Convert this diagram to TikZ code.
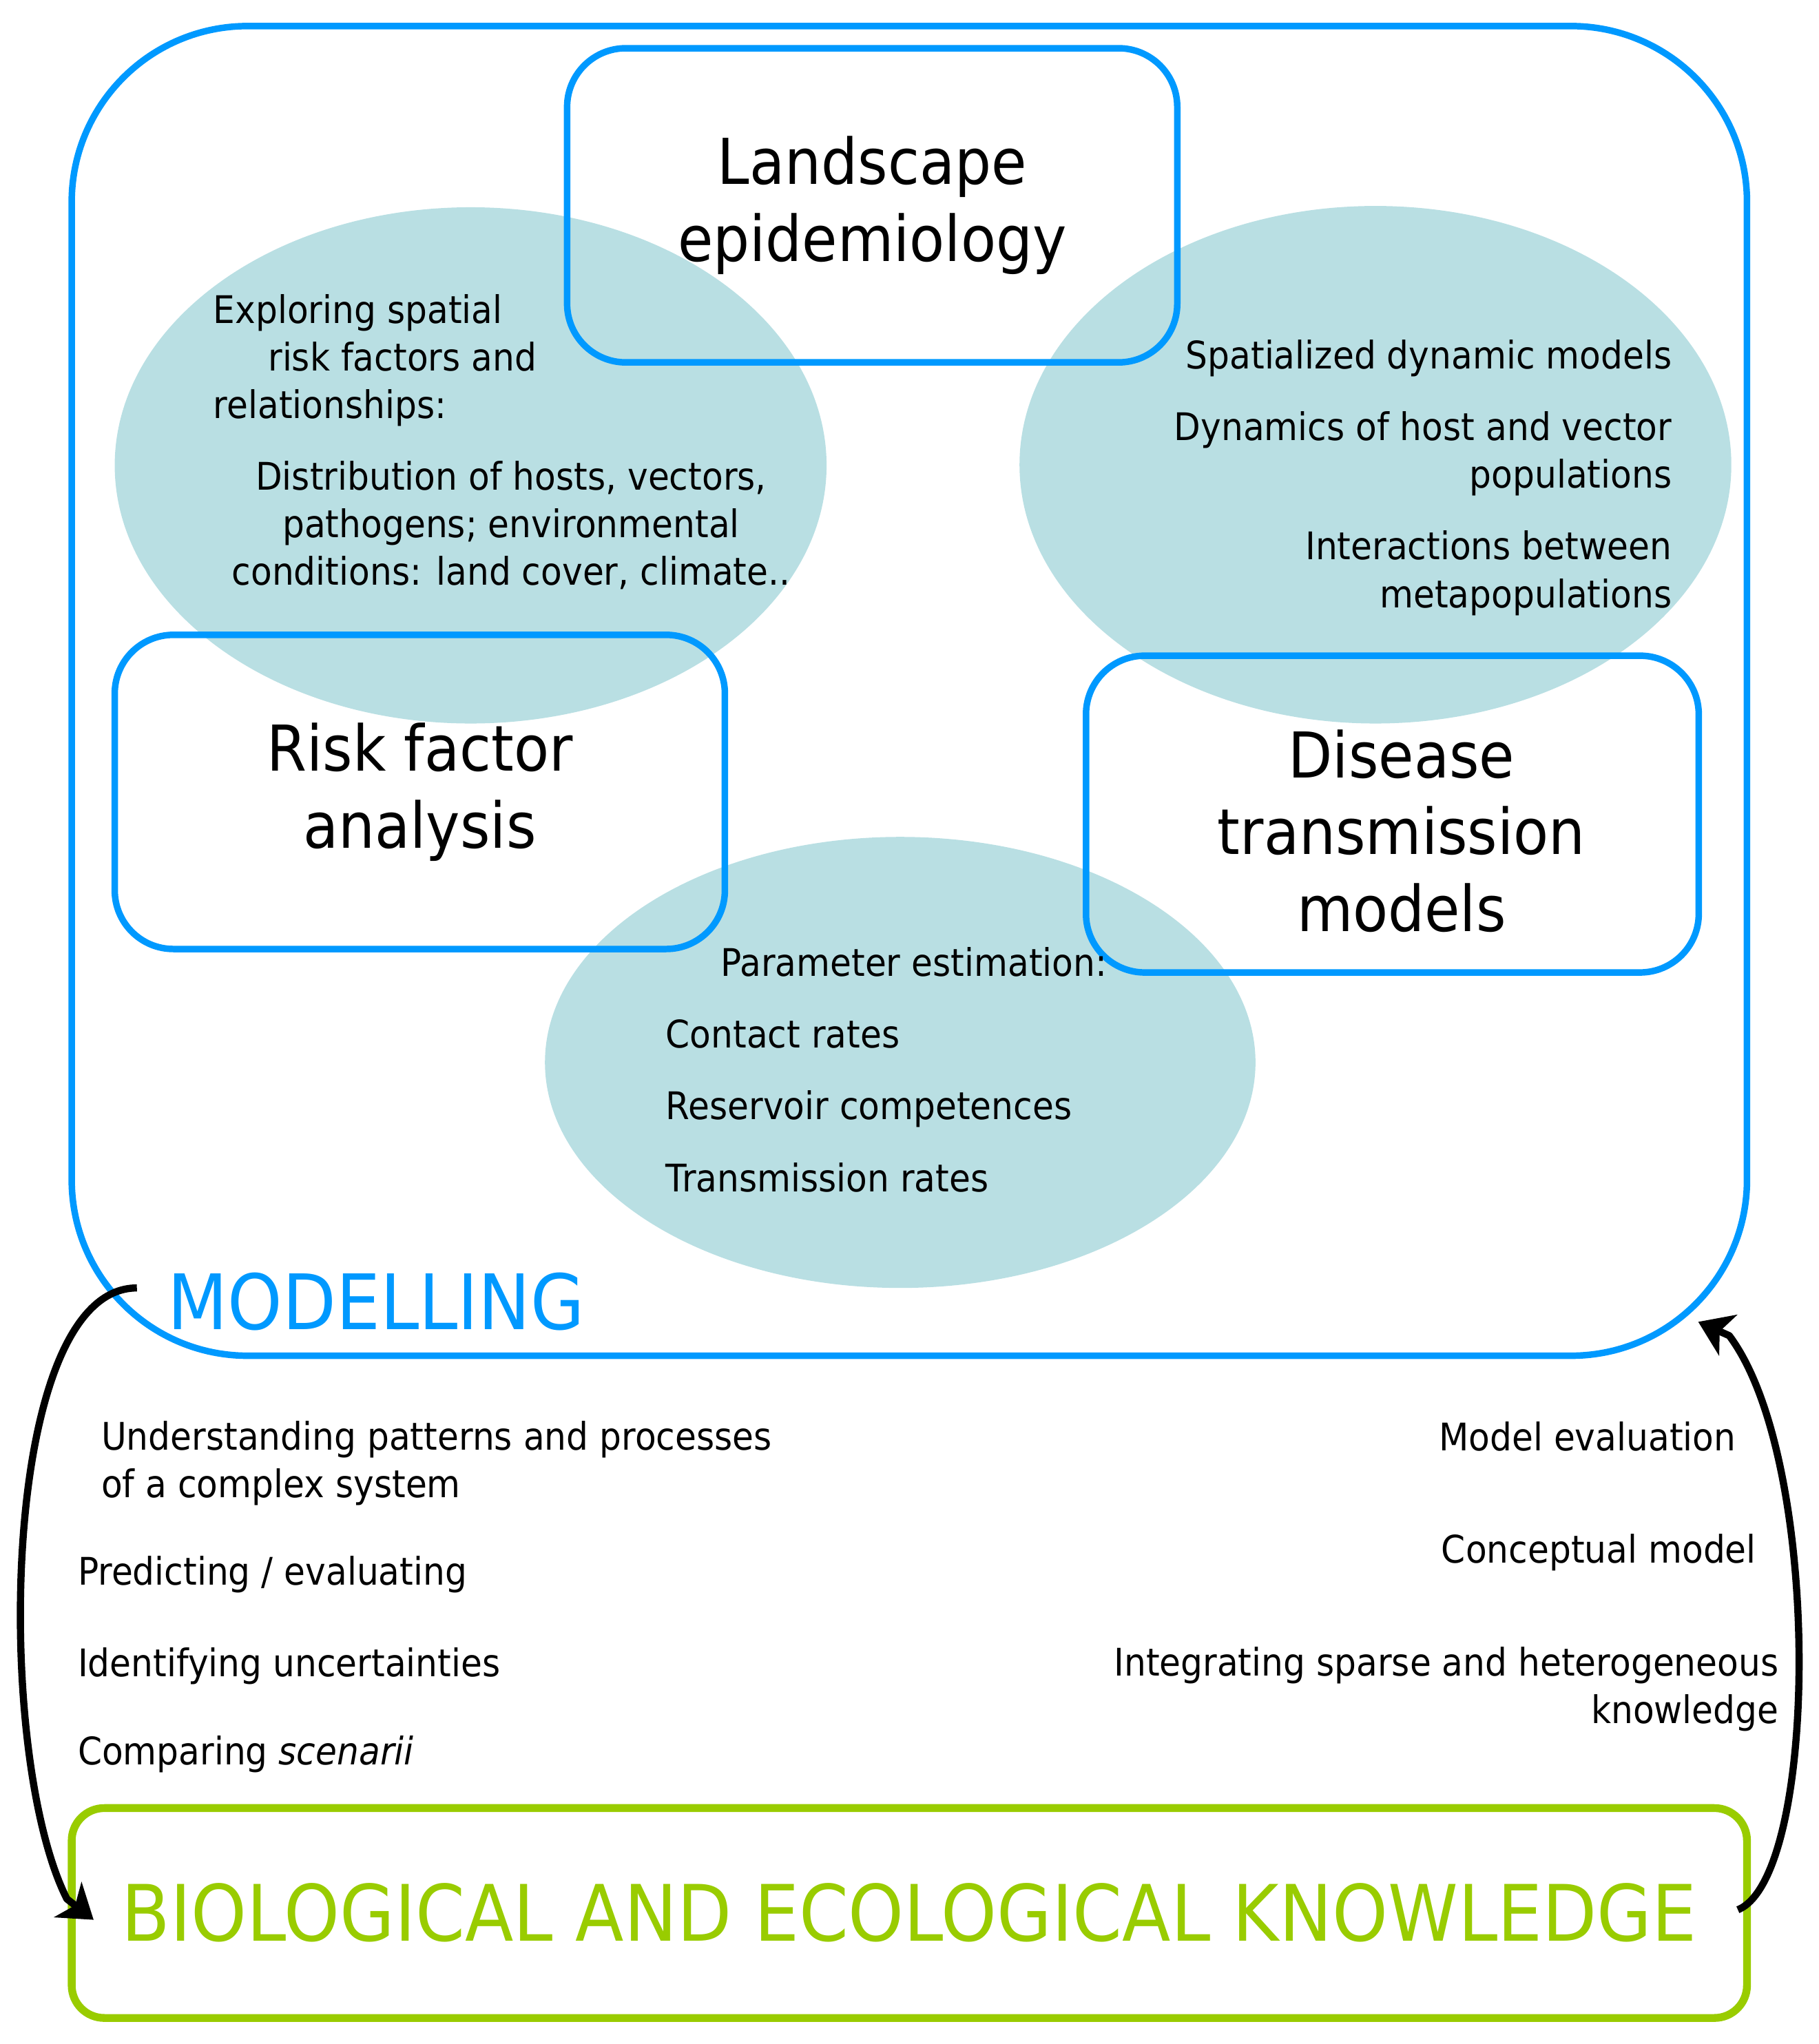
\documentclass[tikz,border=0pt]{standalone}
\usepackage{fontspec}
\setmainfont{DejaVu Sans}[FakeStretch=0.91]
\usetikzlibrary{arrows.meta,shapes.geometric}
\definecolor{modblue}{HTML}{0099FF}
\definecolor{blobcol}{HTML}{B9DFE3}
\definecolor{knowgreen}{HTML}{99CC00}
\tikzset{
  topic/.style={draw=modblue,line width=0.5mm,rounded corners=4.5mm,align=center,
    minimum width=46.8mm,minimum height=24.1mm,inner sep=0pt,
    font=\fontsize{13.8}{16.8}\selectfont},
  blob/.style={ellipse,fill=blobcol,draw=none,inner sep=0pt},
  note/.style={inner sep=0pt,font=\fontsize{8.3}{10.4}\selectfont},
  cycarrow/.style={->,line width=0.55mm},
}
\begin{document}
\begin{tikzpicture}[x=1mm,y=-1mm,line join=round,>={Stealth[length=2.5mm,width=3.4mm,inset=0.7mm]}]
\useasboundingbox (0,0) rectangle (139.5,156.8);
% big frame
\node[draw=modblue,line width=0.5mm,rounded corners=13.5mm,minimum width=128.5mm,minimum height=102mm] (modelling) at (69.75,53) {};
\node[anchor=base west,inner sep=0pt,text=modblue,font=\fontsize{16.7}{20}\selectfont] (modtitle) at (12.8,102.0) {MODELLING};
% the three fields
\node[blob,minimum width=54.6mm,minimum height=39.6mm] (lblob) at (36.1,35.7) {};
\node[blob,minimum width=54.6mm,minimum height=39.7mm] (rblob) at (105.5,35.65) {};
\node[blob,minimum width=54.5mm,minimum height=34.6mm] (bblob) at (69.05,81.5) {};
\node[topic] (landscape) at (66.9,15.75) {Landscape\\epidemiology};
\node[topic] (risk) at (32.2,60.75) {Risk factor\\analysis};
\node[topic,minimum width=47mm,minimum height=24.3mm] (disease) at (106.8,62.45) {};
\node[inner sep=0pt,align=center,font=\fontsize{13.8}{16.8}\selectfont] (diseasetxt) at ([shift={(0.7,1.3)}]disease.center) {Disease\\transmission\\models};
% texts in the fields
\node[note,anchor=base west,align=left] (explore) at (16.3,32.1) {Exploring spatial\\\hspace*{4.2mm}risk factors and\\relationships:};
\node[note,anchor=base,align=center] (distrib) at (39.2,44.9) {Distribution of hosts, vectors,\\pathogens; environmental\\conditions: land cover, climate..};
\node[note,anchor=base east,align=right] (spatial) at (128.3,46.6) {Spatialized dynamic models\\[1.85mm]Dynamics of host and vector\\populations\\[1.85mm]Interactions between\\metapopulations};
\node[note,anchor=base west,align=left] (param) at (51.0,91.4) {\hspace*{4.2mm}Parameter estimation:\\[1.85mm]Contact rates\\[1.85mm]Reservoir competences\\[1.85mm]Transmission rates};
% knowledge
\node[draw=knowgreen,line width=0.6mm,rounded corners=2.5mm,minimum width=128.5mm,minimum height=16.1mm,
  text=knowgreen,font=\fontsize{17}{20}\selectfont] (knowledge) at (69.75,146.75) {BIOLOGICAL AND ECOLOGICAL KNOWLEDGE};
% uses of the model
\node[note,anchor=base west,align=left] (underst) at (7.7,114.9) {Understanding patterns and processes\\of a complex system};
\node[note,anchor=base west] (predict) at (5.9,121.6) {Predicting / evaluating};
\node[note,anchor=base west] (uncert) at (5.9,128.6) {Identifying uncertainties};
\node[note,anchor=base west] (compare) at (5.9,135.4) {Comparing \textit{scenarii}};
\node[note,anchor=base west] (evalmod) at (110.3,111.3) {Model evaluation};
\node[note,anchor=base west] (concept) at (110.5,119.9) {Conceptual model};
\node[note,anchor=base east,align=right] (integr) at (136.5,132.2) {Integrating sparse and heterogeneous\\knowledge};
% loop arrows
\path
(10.5,98.8) coordinate (lstart)
(5.13,145.67) coordinate (lbend)
(7.18,147.27) coordinate (lend)
(133.3,146.5) coordinate (rstart)
(132.64,102.46) coordinate (rbend)
(130.26,101.4) coordinate (rend)
;
\draw[cycarrow] (lstart) .. controls (0,98.8) and (-0.5,134.5) .. (lbend) -- (lend);
\draw[cycarrow] (rstart) .. controls (139.5,144.0) and (139.84,112.06) .. (rbend) -- (rend);
\end{tikzpicture}
\end{document}
